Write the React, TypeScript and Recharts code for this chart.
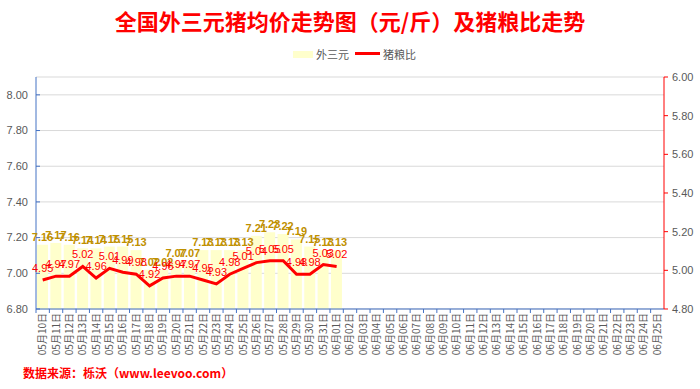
import React from 'react';
import { ComposedChart, Bar, Line, XAxis, YAxis, CartesianGrid, LabelList } from 'recharts';

// 05月10日 .. 06月25日
const dates = [
  '05月10日', '05月11日', '05月12日', '05月13日', '05月14日', '05月15日', '05月16日', '05月17日',
  '05月18日', '05月19日', '05月20日', '05月21日', '05月22日', '05月23日', '05月24日', '05月25日',
  '05月26日', '05月27日', '05月28日', '05月29日', '05月30日', '05月31日', '06月01日', '06月02日',
  '06月03日', '06月04日', '06月05日', '06月06日', '06月07日', '06月08日', '06月09日', '06月10日',
  '06月11日', '06月12日', '06月13日', '06月14日', '06月15日', '06月16日', '06月17日', '06月18日',
  '06月19日', '06月20日', '06月21日', '06月22日', '06月23日', '06月24日', '06月25日',
];

// 外三元 average price (元/斤)
const waiSanYuan = [
  7.16, 7.17, 7.16, 7.14, 7.14, 7.15, 7.15, 7.13, 7.02, 7.02, 7.07, 7.07,
  7.13, 7.13, 7.13, 7.13, 7.21, 7.23, 7.22, 7.19, 7.15, 7.13, 7.13,
];

// 猪粮比
const pigGrainRatio = [
  4.95, 4.97, 4.97, 5.02, 4.96, 5.01, 4.99, 4.98, 4.92, 4.96, 4.97, 4.97,
  4.95, 4.93, 4.98, 5.01, 5.04, 5.05, 5.05, 4.98, 4.98, 5.03, 5.02,
];

const leftTicks = [6.8, 7.0, 7.2, 7.4, 7.6, 7.8, 8.0];
const rightTicks = [4.8, 5.0, 5.2, 5.4, 5.6, 5.8, 6.0];

const chartData = dates.map((d, i) => ({
  date: d,
  price: waiSanYuan[i],
  ratio: pigGrainRatio[i],
}));

const W = 700;
const H = 389;
const PLOT_LEFT = 36;
const PLOT_RIGHT = 664;
const HALF_BAND = (PLOT_RIGHT - PLOT_LEFT) / dates.length / 2;

const numFont = '"Liberation Sans", Arial, sans-serif';
const cjkFont = '"Noto Sans CJK SC", sans-serif';
const gray = '#595959';

const fmt = (v: unknown) => (typeof v === 'number' ? v.toFixed(2) : '');

function LeftTick(props: any) {
  const { x, y, payload } = props;
  return (
    <g>
      <line x1={x} x2={x + 4} y1={y} y2={y} stroke="#4472C4" />
      <text x={x - 8} y={y} dy="0.35em" textAnchor="end" fontSize={11} fill={gray} fontFamily={numFont}>
        {fmt(payload.value)}
      </text>
    </g>
  );
}

function RightTick(props: any) {
  const { x, y, payload } = props;
  return (
    <g>
      <line x1={x} x2={x + 4} y1={y} y2={y} stroke="#FF0000" />
      <text x={x + 8} y={y} dy="0.35em" textAnchor="start" fontSize={11} fill={gray} fontFamily={numFont}>
        {fmt(payload.value)}
      </text>
    </g>
  );
}

function DateTick(props: any) {
  const { x, y, payload } = props;
  const ty = y + 4;
  return (
    <g>
      <line x1={x - HALF_BAND} x2={x - HALF_BAND} y1={y} y2={y + 4} stroke="#4472C4" />
      <text
        x={x}
        y={ty}
        dy="0.35em"
        transform={`rotate(-90, ${x}, ${ty})`}
        textAnchor="end"
        fontSize={10}
        fill={gray}
        fontFamily={cjkFont}
      >
        {payload.value}
      </text>
    </g>
  );
}

export default function App() {
  return (
    <div style={{ position: 'absolute', left: 0, top: 0, width: W, height: H, background: '#fff', overflow: 'hidden' }}>
      <div
        style={{
          position: 'absolute', left: 0, top: 5, width: W, textAlign: 'center',
          fontFamily: cjkFont, fontWeight: 'bold', fontSize: 22, color: '#FF0000', lineHeight: '30px',
        }}
      >
        全国外三元猪均价走势图（元/斤）及猪粮比走势
      </div>

      {/* legend */}
      <div style={{ position: 'absolute', left: 293, top: 51, width: 20, height: 7, background: '#FFFFCC' }} />
      <div style={{ position: 'absolute', left: 316, top: 46, fontFamily: cjkFont, fontSize: 11, color: gray, lineHeight: '16px' }}>
        外三元
      </div>
      <div style={{ position: 'absolute', left: 355, top: 52, width: 25, height: 3, background: '#FF0000' }} />
      <div style={{ position: 'absolute', left: 383, top: 46, fontFamily: cjkFont, fontSize: 11, color: gray, lineHeight: '16px' }}>
        猪粮比
      </div>

      <div style={{ position: 'absolute', left: 0, top: 0 }}>
        <ComposedChart
          width={W}
          height={H}
          data={chartData}
          margin={{ top: 77, right: 0, bottom: 80, left: 0 }}
          barCategoryGap={1}
        >
          <CartesianGrid horizontal vertical={false} stroke="#D9D9D9" yAxisId="left" />
          <XAxis
            dataKey="date"
            height={0.01}
            interval={0}
            stroke="#4472C4"
            tickSize={0}
            tickMargin={0}
            tick={<DateTick />}
          />
          <YAxis
            yAxisId="left"
            orientation="left"
            width={PLOT_LEFT}
            domain={[6.8, 8.1]}
            ticks={leftTicks}
            allowDataOverflow
            stroke="#4472C4"
            tickSize={0}
            tickMargin={0}
            tick={<LeftTick />}
          />
          <YAxis
            yAxisId="right"
            orientation="right"
            width={W - PLOT_RIGHT}
            domain={[4.8, 6.0]}
            ticks={rightTicks}
            allowDataOverflow
            stroke="#FF0000"
            tickSize={0}
            tickMargin={0}
            tick={<RightTick />}
          />
          <Bar yAxisId="left" dataKey="price" fill="#FFFFCC" isAnimationActive={false}>
            <LabelList
              dataKey="price"
              position="top"
              offset={4}
              formatter={fmt}
              fill="#BF9000"
              fontSize={11}
              fontWeight="bold"
              fontFamily={numFont}
            />
          </Bar>
          <Line
            yAxisId="right"
            dataKey="ratio"
            stroke="#FF0000"
            strokeWidth={3}
            dot={false}
            activeDot={false}
            isAnimationActive={false}
          >
            <LabelList
              dataKey="ratio"
              position="top"
              offset={8}
              formatter={fmt}
              fill="#FF0000"
              fontSize={11}
              fontFamily={numFont}
            />
          </Line>
        </ComposedChart>
      </div>

      <div
        style={{
          position: 'absolute', left: 23, top: 364, fontFamily: cjkFont, fontWeight: 'bold',
          fontSize: 12, color: '#FF0000', lineHeight: '18px',
        }}
      >
        数据来源：栎沃（www.leevoo.com）
      </div>
    </div>
  );
}
